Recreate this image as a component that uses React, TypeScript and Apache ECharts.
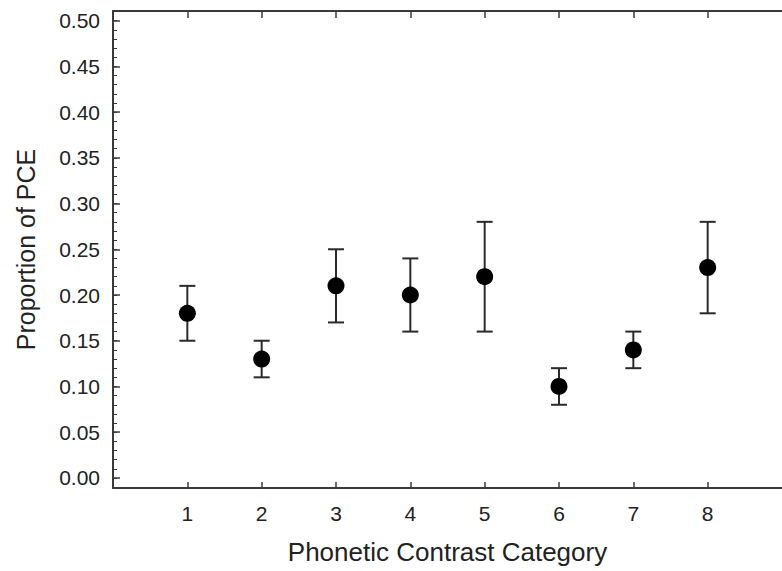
import React, { useEffect, useRef } from "react";
import * as echarts from "echarts";

const categories = [1, 2, 3, 4, 5, 6, 7, 8];
const means = [0.18, 0.13, 0.21, 0.2, 0.22, 0.1, 0.14, 0.23];
const lower = [0.15, 0.11, 0.17, 0.16, 0.16, 0.08, 0.12, 0.18];
const upper = [0.21, 0.15, 0.25, 0.24, 0.28, 0.12, 0.16, 0.28];
const yTickLabels = [0, 0.05, 0.1, 0.15, 0.2, 0.25, 0.3, 0.35, 0.4, 0.45, 0.5];
const yMinorTicks = Array.from({ length: 51 }, (_, i) => Math.round(i) / 100);

const FONT = "'Liberation Sans', Arial, sans-serif";
const AXIS_COLOR = "#3a3a3a";
const TEXT_COLOR = "#222";

export default function App() {
  const ref = useRef<HTMLDivElement>(null);
  useEffect(() => {
    if (!ref.current) return;
    const chart = echarts.init(ref.current, undefined, { renderer: "svg" });
    const errData = categories.map((c, i) => [c, lower[i], upper[i]]);
    const ptData = categories.map((c, i) => [c, means[i]]);
    chart.setOption({
      animation: false,
      backgroundColor: "#ffffff",
      grid: { left: 113, top: 11, width: 679, height: 477 },
      xAxis: [
        {
          type: "value",
          min: 0,
          max: 9,
          position: "bottom",
          splitLine: { show: false },
          axisLine: { show: true, onZero: false, lineStyle: { color: AXIS_COLOR, width: 2 } },
          axisTick: { show: true, inside: true, length: 6, customValues: categories, lineStyle: { color: AXIS_COLOR, width: 1.5 } },
          axisLabel: { show: true, customValues: categories, margin: 15, fontSize: 21, color: TEXT_COLOR, fontFamily: FONT },
          name: "Phonetic Contrast Category",
          nameLocation: "middle",
          nameGap: 51,
          nameTextStyle: { fontSize: 26, color: TEXT_COLOR, fontFamily: FONT },
        },
        {
          type: "value",
          min: 0,
          max: 9,
          position: "top",
          splitLine: { show: false },
          axisLine: { show: true, onZero: false, lineStyle: { color: AXIS_COLOR, width: 2 } },
          axisTick: { show: true, inside: true, length: 7, customValues: categories, lineStyle: { color: AXIS_COLOR, width: 1.5 } },
          axisLabel: { show: false },
        },
      ],
      yAxis: [
        {
          type: "value",
          min: -0.011,
          max: 0.5105,
          position: "left",
          splitLine: { show: false },
          axisLine: { show: true, onZero: false, lineStyle: { color: AXIS_COLOR, width: 2 } },
          axisTick: { show: true, inside: true, length: 7, customValues: yTickLabels, lineStyle: { color: AXIS_COLOR, width: 1.5 } },
          axisLabel: {
            show: true,
            customValues: yTickLabels,
            margin: 13,
            fontSize: 21,
            color: TEXT_COLOR,
            fontFamily: FONT,
            formatter: (v: number) => v.toFixed(2),
          },
          name: "Proportion of PCE",
          nameLocation: "middle",
          nameGap: 75,
          nameTextStyle: { fontSize: 25, color: TEXT_COLOR, fontFamily: FONT },
        },
        {
          type: "value",
          min: -0.011,
          max: 0.5105,
          position: "left",
          splitLine: { show: false },
          axisLine: { show: false, onZero: false },
          axisTick: { show: true, inside: true, length: 4, customValues: yMinorTicks, lineStyle: { color: AXIS_COLOR, width: 1 } },
          axisLabel: { show: false },
        },
      ],
      series: [
        {
          type: "custom",
          xAxisIndex: 0,
          yAxisIndex: 0,
          data: errData,
          encode: { x: 0, y: [1, 2] },
          renderItem: (params: any, api: any) => {
            const x = api.value(0);
            const lo = api.coord([x, api.value(1)]);
            const hi = api.coord([x, api.value(2)]);
            const hw = 8;
            const style = { stroke: "#2a2a2a", lineWidth: 2 };
            return {
              type: "group",
              children: [
                { type: "line", shape: { x1: lo[0], y1: lo[1], x2: hi[0], y2: hi[1] }, style },
                { type: "line", shape: { x1: hi[0] - hw, y1: hi[1], x2: hi[0] + hw, y2: hi[1] }, style },
                { type: "line", shape: { x1: lo[0] - hw, y1: lo[1], x2: lo[0] + hw, y2: lo[1] }, style },
              ],
            };
          },
          z: 2,
        },
        {
          type: "scatter",
          xAxisIndex: 0,
          yAxisIndex: 0,
          data: ptData,
          symbol: "circle",
          symbolSize: 17,
          itemStyle: { color: "#000", opacity: 1 },
          z: 3,
        },
      ],
    });
    return () => chart.dispose();
  }, []);
  return <div ref={ref} style={{ position: "fixed", left: 0, top: 0, width: 782, height: 571 }} />;
}
